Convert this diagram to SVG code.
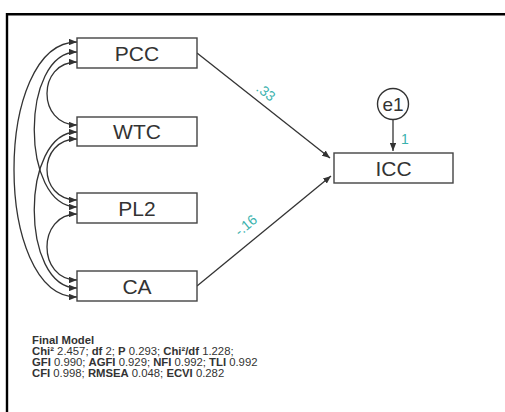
<svg xmlns="http://www.w3.org/2000/svg" width="505" height="412" viewBox="0 0 505 412">
<defs>
<style>
.box{fill:#fff;stroke:#444;stroke-width:1.4}
.lbl{font-family:"Liberation Sans",Arial,sans-serif;font-size:21px;fill:#333;text-anchor:middle}
.coef{font-family:"Liberation Sans",Arial,sans-serif;font-size:14px;fill:#3ab2ad;text-anchor:middle}
.conn{fill:none;stroke:#333;stroke-width:1.3}
.fit{font-family:"Liberation Sans",Arial,sans-serif;font-size:11.3px;fill:#333}
.b{font-weight:bold}
</style>
<marker id="ah" viewBox="0 0 10 8" refX="10" refY="4" markerWidth="8" markerHeight="6.4" markerUnits="userSpaceOnUse" orient="auto-start-reverse">
<path d="M0,0 L10,4 L0,8 Z" fill="#333"/>
</marker>
</defs>
<rect width="505" height="412" fill="#fff"/>
<path d="M7,412 V14.2 H505" fill="none" stroke="#000" stroke-width="2.4"/>
<g id="connectors">
<path class="conn" d="M77,62 C37,62 37,125 77,125" marker-start="url(#ah)" marker-end="url(#ah)"/>
<path class="conn" d="M77,139 C37,139 37,200 77,200" marker-start="url(#ah)" marker-end="url(#ah)"/>
<path class="conn" d="M77,214 C37,214 37,280 77,280" marker-start="url(#ah)" marker-end="url(#ah)"/>
<path class="conn" d="M77,52 C20,52 20,207 77,207" marker-start="url(#ah)" marker-end="url(#ah)"/>
<path class="conn" d="M77,132 C20,132 20,288 77,288" marker-start="url(#ah)" marker-end="url(#ah)"/>
<path class="conn" d="M77,42 C-7,42 -7,297 77,297" marker-start="url(#ah)" marker-end="url(#ah)"/>
<path class="conn" d="M197,53 L330,158" marker-end="url(#ah)"/>
<path class="conn" d="M197,286 L331,176" marker-end="url(#ah)"/>
<path class="conn" d="M393,120 L393,151" marker-end="url(#ah)"/>
<text class="coef" transform="translate(263,96) rotate(38)">.33</text>
<text class="coef" transform="translate(249,229) rotate(-40)">-.16</text>
<text class="coef" x="405" y="144">1</text>
</g>
<g id="PCC"><rect class="box" x="77" y="38" width="120" height="30"/><text class="lbl" x="137" y="60.5">PCC</text></g>
<g id="WTC"><rect class="box" x="77" y="117" width="120" height="29"/><text class="lbl" x="137" y="139">WTC</text></g>
<g id="PL2"><rect class="box" x="77" y="193" width="120" height="30"/><text class="lbl" x="137" y="215.5">PL2</text></g>
<g id="CA"><rect class="box" x="77" y="271" width="120" height="30"/><text class="lbl" x="137" y="293.5">CA</text></g>
<g id="ICC"><rect class="box" x="334" y="153" width="119" height="30"/><text class="lbl" x="393.5" y="175.5">ICC</text></g>
<g id="e1"><circle cx="393" cy="104" r="15.5" fill="#fff" stroke="#333" stroke-width="1.4"/><text class="lbl" x="393" y="111" style="font-size:19px">e1</text></g>
<g id="fit">
<text class="fit b" x="32" y="344">Final Model</text>
<text class="fit" x="32" y="355"><tspan class="b">Chi²</tspan> 2.457; <tspan class="b">df</tspan> 2; <tspan class="b">P</tspan> 0.293; <tspan class="b">Chi²/df</tspan> 1.228;</text>
<text class="fit" x="32" y="366"><tspan class="b">GFI</tspan> 0.990; <tspan class="b">AGFI</tspan> 0.929; <tspan class="b">NFI</tspan> 0.992; <tspan class="b">TLI</tspan> 0.992</text>
<text class="fit" x="32" y="377"><tspan class="b">CFI</tspan> 0.998; <tspan class="b">RMSEA</tspan> 0.048; <tspan class="b">ECVI</tspan> 0.282</text>
</g>
</svg>
